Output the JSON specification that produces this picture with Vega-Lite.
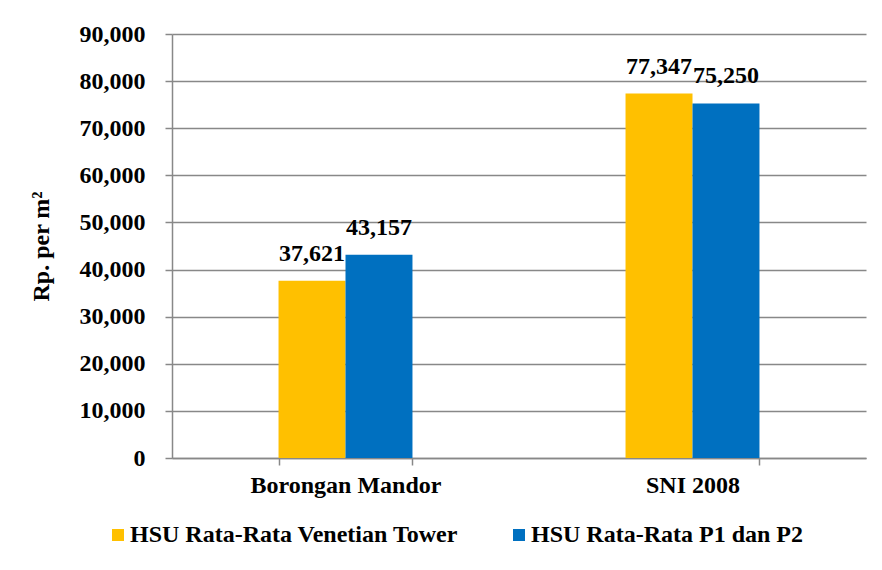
{
  "$schema": "https://vega.github.io/schema/vega-lite/v6.json",
  "autosize": "none",
  "width": 694,
  "height": 424,
  "padding": {"left": 172, "top": 34, "right": 16, "bottom": 112},
  "background": "white",
  "config": {
    "font": "Liberation Serif",
    "view": {"stroke": null},
    "axis": {
      "labelFont": "Liberation Serif",
      "labelFontWeight": "bold",
      "labelFontSize": 24,
      "labelColor": "black",
      "labelLimit": 0,
      "titleFont": "Liberation Serif",
      "titleFontWeight": "bold",
      "titleFontSize": 24,
      "titleColor": "black",
      "domainColor": "#888888",
      "domainWidth": 1.5,
      "tickColor": "#888888",
      "tickWidth": 1.5,
      "tickSize": 7,
      "gridColor": "#888888",
      "gridWidth": 1.5
    },
    "legend": {
      "labelFont": "Liberation Serif",
      "labelFontWeight": "bold",
      "labelFontSize": 24,
      "labelColor": "black",
      "labelLimit": 0
    }
  },
  "data": {
    "values": [
      {"kategori": "Borongan Mandor", "seri": "HSU Rata-Rata Venetian Tower", "nilai": 37621},
      {"kategori": "Borongan Mandor", "seri": "HSU Rata-Rata P1 dan P2", "nilai": 43157},
      {"kategori": "SNI 2008", "seri": "HSU Rata-Rata Venetian Tower", "nilai": 77347},
      {"kategori": "SNI 2008", "seri": "HSU Rata-Rata P1 dan P2", "nilai": 75250}
    ]
  },
  "encoding": {
    "x": {
      "field": "kategori",
      "type": "nominal",
      "sort": ["Borongan Mandor", "SNI 2008"],
      "scale": {"paddingInner": 0.614, "paddingOuter": 0.307},
      "axis": {
        "title": null,
        "labelAngle": 0,
        "tickBand": "extent",
        "labelPadding": 8,
        "grid": false
      }
    },
    "xOffset": {
      "field": "seri",
      "type": "nominal",
      "sort": ["HSU Rata-Rata Venetian Tower", "HSU Rata-Rata P1 dan P2"]
    },
    "y": {
      "field": "nilai",
      "type": "quantitative",
      "scale": {"domain": [0, 90000], "nice": false},
      "axis": {
        "title": "Rp. per m²",
        "values": [0, 10000, 20000, 30000, 40000, 50000, 60000, 70000, 80000, 90000],
        "format": ",d",
        "labelPadding": 20,
        "titlePadding": 26,
        "grid": true
      }
    }
  },
  "layer": [
    {
      "mark": {"type": "bar"},
      "encoding": {
        "color": {
          "field": "seri",
          "type": "nominal",
          "sort": ["HSU Rata-Rata Venetian Tower", "HSU Rata-Rata P1 dan P2"],
          "scale": {
            "domain": ["HSU Rata-Rata Venetian Tower", "HSU Rata-Rata P1 dan P2"],
            "range": ["#FFC000", "#0070C0"]
          },
          "legend": {
            "title": null,
            "orient": "none",
            "direction": "horizontal",
            "legendX": -66,
            "legendY": 489,
            "symbolType": "square",
            "symbolSize": 144,
            "symbolStrokeWidth": 0,
            "labelOffset": 0,
            "columnPadding": 48,
            "padding": 0
          }
        }
      }
    },
    {
      "mark": {
        "type": "text",
        "font": "Liberation Serif",
        "fontWeight": "bold",
        "fontSize": 24,
        "color": "black",
        "baseline": "alphabetic",
        "dy": -20
      },
      "encoding": {
        "text": {"field": "nilai", "type": "quantitative", "format": ",d"}
      }
    }
  ]
}
